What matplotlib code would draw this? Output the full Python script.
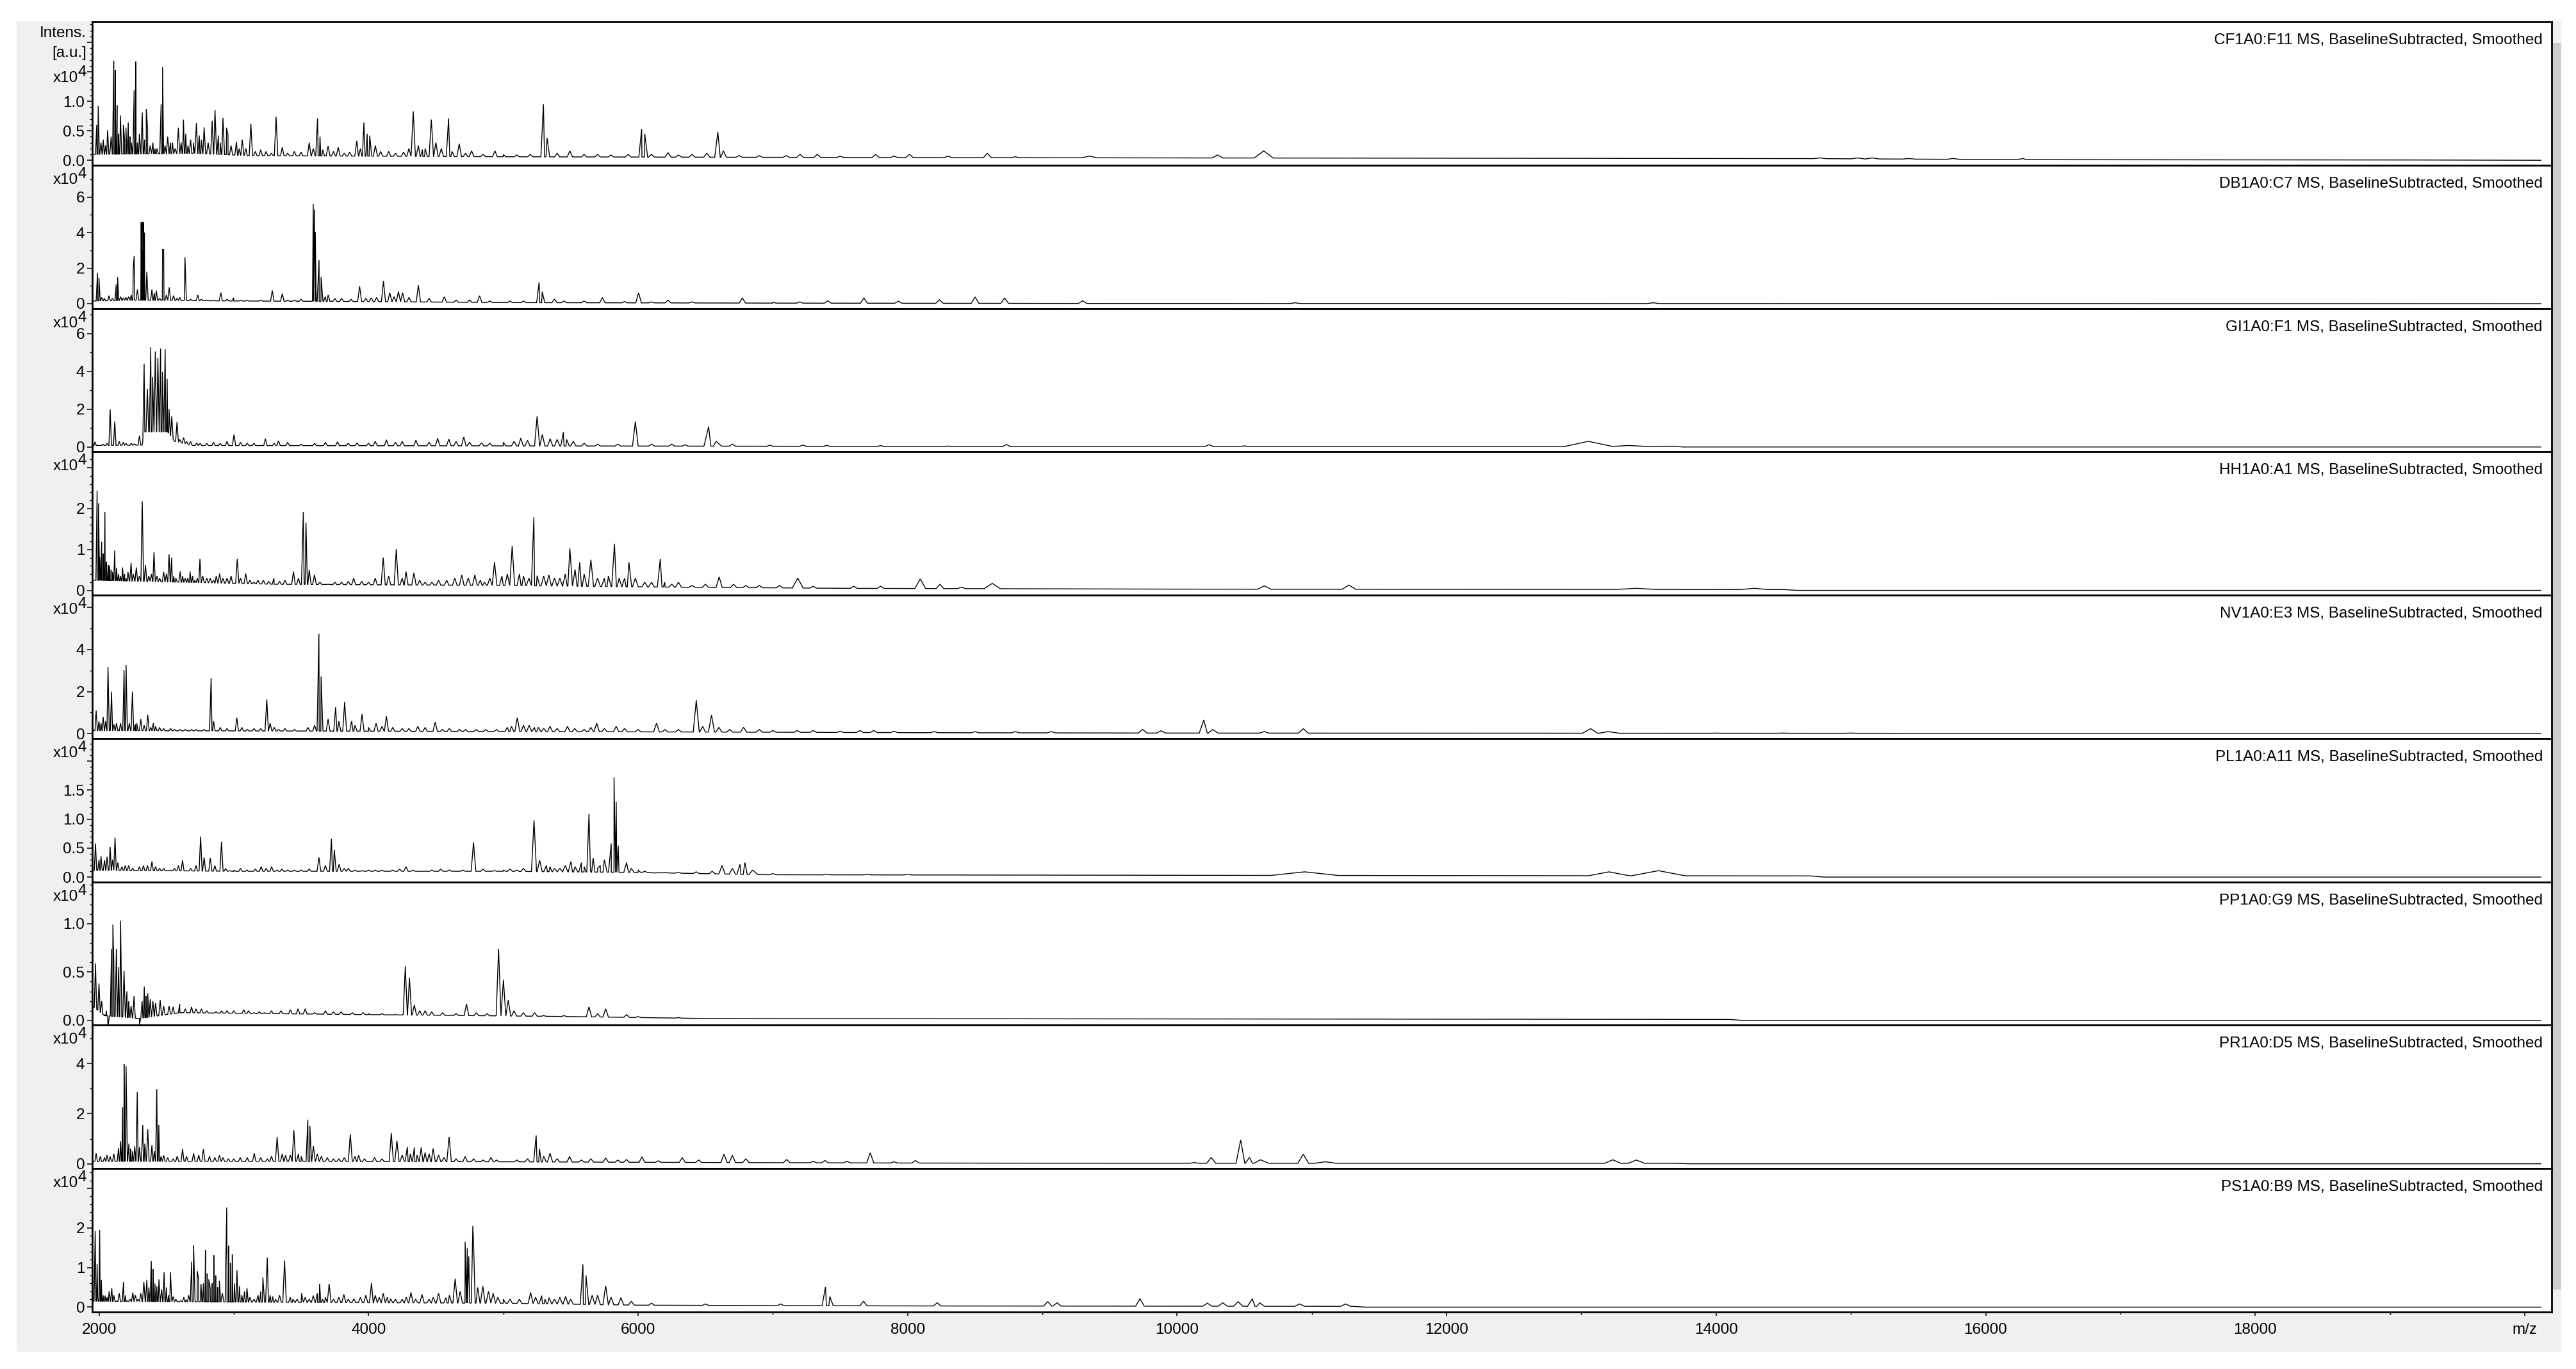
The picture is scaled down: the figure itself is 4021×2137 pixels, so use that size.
"""
Stacked MALDI-TOF spectra (flexAnalysis style overview), nine samples.
"""

import numpy as np
import matplotlib
matplotlib.use("Agg")
import matplotlib.pyplot as plt
from matplotlib.patches import Rectangle
from matplotlib.ticker import MultipleLocator, AutoMinorLocator, FuncFormatter

plt.rcParams['font.family'] = ['Liberation Sans', 'DejaVu Sans']
plt.rcParams['mathtext.default'] = 'regular'

# Sample names, y tick steps and highest labelled tick (x10^4)
SAMPLES = ["CF1A0:F11", "DB1A0:C7", "GI1A0:F1", "HH1A0:A1", "NV1A0:E3",
           "PL1A0:A11", "PP1A0:G9", "PR1A0:D5", "PS1A0:B9"]
TICK_STEP = [0.5, 2, 2, 1, 2, 0.5, 0.5, 2, 1]
LABEL_MAX = [1.0, 6, 6, 2, 4, 1.5, 1.0, 4, 2]

X_TICKS = [2000, 4000, 6000, 8000, 10000, 12000, 14000, 16000, 18000, 20000]
X_TICK_LABELS = ["2000", "4000", "6000", "8000", "10000", "12000", "14000", "16000", "18000", "m/z"]

# Peak lists: (m/z, intensity x10^4[, half width])
CF_PEAKS = [(1983, 0.60), (1994, 0.92), (2032, 0.35), (2064, 0.51), (2110, 1.69), (2121, 1.53),
            (2134, 0.93), (2159, 0.76), (2181, 0.60), (2200, 0.55), (2217, 0.64), (2240, 0.30),
            (2261, 1.19), (2272, 1.67), (2300, 0.45), (2321, 0.81), (2351, 0.87), (2361, 0.53),
            (2400, 0.30), (2430, 0.20), (2461, 0.95), (2472, 1.58), (2510, 0.40), (2545, 0.30),
            (2589, 0.55), (2627, 0.69), (2644, 0.45), (2680, 0.35), (2723, 0.63), (2744, 0.42),
            (2780, 0.56), (2840, 0.67), (2861, 0.85), (2886, 0.42), (2920, 0.72), (2946, 0.55),
            (2957, 0.44), (3020, 0.31), (3063, 0.35), (3127, 0.62), (3200, 0.18), (3314, 0.74),
            (3360, 0.22), (3450, 0.15), (3560, 0.30), (3622, 0.71), (3640, 0.40), (3700, 0.24),
            (3775, 0.22), (3913, 0.33), (3966, 0.64), (3990, 0.45), (4009, 0.42), (4051, 0.25),
            (4150, 0.15), (4332, 0.83), (4370, 0.25), (4420, 0.20), (4466, 0.69), (4500, 0.30),
            (4594, 0.71), (4673, 0.28), (4765, 0.16), (4938, 0.16), (5298, 0.95), (5325, 0.38),
            (5494, 0.16), (5700, 0.10), (5927, 0.10), (6027, 0.53), (6050, 0.45), (6223, 0.13),
            (6510, 0.12), (6592, 0.48), (6633, 0.16), (7202, 0.10), (7330, 0.10), (7763, 0.10),
            (8014, 0.10), (8592, 0.12), (9350, 0.07, 60), (10300, 0.09, 40), (10643, 0.16, 70),
            (14770, 0.04), (15050, 0.04), (15160, 0.04), (15430, 0.03), (15760, 0.03), (16280, 0.03)]
DB_PEAKS = [(1989, 1.74, 10), (2000, 1.45), (2040, 0.30), (2074, 0.45), (2128, 1.09), (2138, 1.50),
            (2181, 0.33), (2220, 0.40), (2255, 2.15), (2261, 2.68), (2285, 0.80), (2313, 4.59),
            (2320, 4.59), (2326, 3.00), (2330, 4.59), (2337, 4.00), (2355, 1.80), (2393, 0.80),
            (2425, 0.74), (2450, 0.30), (2472, 3.06), (2480, 3.04), (2521, 0.92), (2553, 0.45),
            (2638, 2.62), (2644, 1.15), (2733, 0.50), (2800, 0.20), (2904, 0.62), (2999, 0.33),
            (3100, 0.20), (3286, 0.74), (3360, 0.56), (3450, 0.20), (3590, 5.62), (3598, 5.30),
            (3605, 4.04), (3633, 2.45), (3648, 1.50), (3700, 0.50), (3800, 0.30), (3934, 0.98),
            (4020, 0.33), (4111, 1.27), (4158, 0.62), (4222, 0.68), (4253, 0.62), (4370, 1.04),
            (4562, 0.39), (4824, 0.44), (5266, 1.20), (5289, 0.67), (5380, 0.26), (5735, 0.34),
            (6004, 0.61), (6223, 0.20), (6774, 0.32), (7408, 0.16), (7676, 0.32), (7932, 0.14),
            (8237, 0.22), (8501, 0.38), (8720, 0.32), (9299, 0.16), (10876, 0.05), (13533, 0.05)]
GI_PEAKS = [(1971, 0.27), (2083, 1.98), (2117, 1.35), (2150, 0.30), (2200, 0.20), (2263, 0.16),
            (2300, 0.60), (2335, 4.40), (2359, 3.08), (2384, 5.27), (2398, 3.70), (2418, 5.05),
            (2437, 4.70), (2457, 5.20), (2471, 3.95), (2491, 5.16), (2506, 3.60), (2520, 2.00),
            (2540, 1.63), (2579, 1.32), (2628, 0.50), (2680, 0.30), (2725, 0.22), (2800, 0.20),
            (3002, 0.66), (3100, 0.20), (3235, 0.44), (3332, 0.33), (3500, 0.15), (3770, 0.27),
            (3915, 0.22), (4133, 0.38), (4352, 0.36), (4513, 0.46), (4596, 0.42), (4707, 0.53),
            (4838, 0.22), (5130, 0.46), (5251, 1.63), (5290, 0.66), (5348, 0.44), (5446, 0.79),
            (5470, 0.40), (5980, 1.35), (6524, 1.08, 35), (6580, 0.30, 40), (6980, 0.10),
            (7224, 0.10), (8300, 0.05), (8734, 0.13), (10237, 0.12), (10500, 0.06),
            (13052, 0.30, 180), (13350, 0.08, 120)]
HH_PEAKS = [(1986, 2.44), (1996, 2.13), (2020, 1.19), (2044, 1.92), (2068, 0.62), (2090, 0.50),
            (2117, 0.98), (2145, 0.40), (2175, 0.56), (2200, 0.30), (2238, 0.67), (2277, 0.56),
            (2321, 2.18), (2345, 0.62), (2370, 0.35), (2408, 0.93), (2450, 0.30), (2480, 0.45),
            (2520, 0.88), (2539, 0.80), (2570, 0.30), (2603, 0.46), (2640, 0.30), (2676, 0.46),
            (2710, 0.25), (2749, 0.77), (2800, 0.30), (2850, 0.25), (2895, 0.41), (2950, 0.30),
            (3026, 0.77), (3089, 0.41), (3150, 0.20), (3220, 0.25), (3298, 0.30), (3443, 0.46),
            (3516, 1.92), (3536, 1.66), (3560, 0.50), (3599, 0.38), (3700, 0.15), (3800, 0.20),
            (3890, 0.30), (4000, 0.20), (4109, 0.80), (4206, 1.01), (4278, 0.46), (4337, 0.43),
            (4420, 0.20), (4520, 0.25), (4692, 0.38), (4789, 0.38), (4860, 0.20), (4935, 0.69),
            (5066, 1.09), (5120, 0.40), (5227, 1.79), (5251, 0.36), (5338, 0.38), (5420, 0.30),
            (5494, 1.03), (5533, 0.51), (5567, 0.69), (5650, 0.75), (5700, 0.30), (5825, 1.14),
            (5860, 0.30), (5932, 0.69), (6050, 0.20), (6165, 0.77), (6199, 0.20), (6400, 0.12),
            (6602, 0.33), (6709, 0.15), (7185, 0.30, 40), (7600, 0.10), (8094, 0.28, 40),
            (8240, 0.15), (8629, 0.17, 60), (10647, 0.11, 50), (11275, 0.13, 50),
            (13408, 0.05, 150), (14282, 0.05, 100)]
NV_PEAKS = [(1979, 1.10), (2000, 0.60), (2031, 0.80), (2067, 3.17), (2093, 2.00), (2130, 0.50),
            (2186, 3.02), (2201, 3.27), (2248, 2.00), (2280, 0.50), (2310, 0.70), (2362, 0.90),
            (2403, 0.50), (2450, 0.30), (2532, 0.25), (2600, 0.20), (2687, 0.20), (2832, 2.64),
            (2850, 0.60), (2900, 0.30), (3023, 0.76), (3100, 0.20), (3245, 1.63), (3270, 0.50),
            (3333, 0.20), (3450, 0.20), (3632, 4.74), (3648, 2.72), (3700, 0.70), (3756, 1.26),
            (3823, 1.51), (3875, 0.60), (3952, 0.93), (4000, 0.30), (4056, 0.50), (4133, 0.83),
            (4250, 0.25), (4366, 0.35), (4495, 0.55), (4600, 0.25), (4676, 0.20), (4800, 0.20),
            (4950, 0.20), (5104, 0.76), (5150, 0.40), (5192, 0.40), (5260, 0.30), (5347, 0.35),
            (5400, 0.25), (5476, 0.35), (5600, 0.20), (5693, 0.50), (5838, 0.35), (6137, 0.50),
            (6432, 1.59), (6545, 0.89), (6600, 0.30), (6783, 0.30), (7181, 0.15), (7646, 0.15),
            (7749, 0.15), (8198, 0.10), (9066, 0.10), (9745, 0.20), (9881, 0.14), (10198, 0.65),
            (10264, 0.20, 40), (10647, 0.10), (10937, 0.24), (13069, 0.24, 60), (13200, 0.10, 80),
            (14000, 0.03), (14500, 0.03), (15000, 0.03)]
PL_PEAKS = [(1974, 0.58), (2015, 0.36), (2041, 0.29), (2083, 0.52), (2119, 0.68), (2170, 0.18),
            (2220, 0.20), (2274, 0.11), (2330, 0.20), (2393, 0.27), (2450, 0.15), (2506, 0.11),
            (2560, 0.15), (2620, 0.29), (2754, 0.70), (2780, 0.34), (2826, 0.33), (2909, 0.61),
            (2971, 0.11), (3050, 0.15), (3120, 0.10), (3203, 0.18), (3281, 0.18), (3358, 0.14),
            (3450, 0.12), (3632, 0.34), (3725, 0.66), (3746, 0.47), (3782, 0.22), (3850, 0.15),
            (3952, 0.11), (4100, 0.12), (4278, 0.18), (4400, 0.10), (4536, 0.14), (4650, 0.10),
            (4779, 0.60), (4934, 0.11), (5100, 0.12), (5228, 0.98), (5270, 0.29), (5347, 0.18),
            (5420, 0.15), (5502, 0.27), (5533, 0.18), (5636, 1.09), (5667, 0.33), (5720, 0.20),
            (5801, 0.58), (5822, 1.72), (5838, 1.30), (5853, 0.54), (5915, 0.25), (6000, 0.12),
            (6122, 0.07), (6432, 0.09), (6623, 0.20), (6757, 0.22), (6793, 0.25, 30),
            (6850, 0.12, 40), (8000, 0.05), (10947, 0.09, 250), (13205, 0.09, 150),
            (13572, 0.11, 200)]
PP_PEAKS = [(1974, 0.59), (2000, 0.38), (2041, 0.06), (2067, -0.07), (2093, 0.74), (2103, 0.99),
            (2129, 0.74), (2160, 1.03), (2186, 0.51), (2207, 0.30), (2238, 0.15), (2300, -0.04),
            (2336, 0.35), (2362, 0.28), (2400, 0.20), (2454, 0.21), (2520, 0.15), (2599, 0.17),
            (2687, 0.14), (2760, 0.12), (2868, 0.09), (2950, 0.10), (3074, 0.11), (3150, 0.08),
            (3229, 0.08), (3350, 0.10), (3477, 0.12), (3600, 0.08), (3797, 0.09), (4000, 0.07),
            (4273, 0.56), (4304, 0.44), (4340, 0.16), (4469, 0.09), (4727, 0.17), (4965, 0.74),
            (5001, 0.42), (5037, 0.21), (5233, 0.08), (5636, 0.14), (5760, 0.12), (5915, 0.06)]
PR_PEAKS = [(1979, 0.42), (2041, 0.25), (2083, 0.29), (2145, 0.63), (2176, 2.26), (2186, 3.98),
            (2201, 3.90), (2222, 0.80), (2248, 0.50), (2284, 2.87), (2300, 0.67), (2325, 1.55),
            (2362, 1.38), (2393, 0.75), (2429, 2.98), (2444, 1.55), (2480, 0.34), (2550, 0.20),
            (2620, 0.59), (2702, 0.42), (2775, 0.59), (2894, 0.34), (2960, 0.20), (3048, 0.25),
            (3152, 0.42), (3250, 0.20), (3322, 1.07), (3384, 0.34), (3446, 1.34), (3500, 0.30),
            (3550, 1.76), (3565, 1.51), (3591, 0.71), (3694, 0.25), (3780, 0.20), (3865, 1.19),
            (3926, 0.34), (4045, 0.25), (4169, 1.23), (4211, 0.92), (4288, 0.67), (4340, 0.65),
            (4391, 0.65), (4479, 0.61), (4598, 1.07), (4717, 0.29), (4908, 0.25), (5244, 1.13),
            (5269, 0.59), (5347, 0.42), (5492, 0.29), (5760, 0.23), (5915, 0.17), (6029, 0.28),
            (6328, 0.25), (6638, 0.39), (6700, 0.34), (7103, 0.17), (7387, 0.13), (7723, 0.44),
            (8059, 0.13), (10127, 0.05), (10253, 0.25), (10472, 0.95), (10537, 0.25),
            (10619, 0.16, 60), (10936, 0.38, 40), (11100, 0.08, 80), (13233, 0.16, 60),
            (13408, 0.15, 60)]
PS_PEAKS = [(1972, 1.92), (1986, 1.09), (1991, 0.21), (2005, 1.95), (2018, 0.69), (2045, 0.29),
            (2095, 0.48), (2130, 0.15), (2182, 0.64), (2210, 0.16), (2251, 0.37), (2290, 0.20),
            (2333, 0.64), (2355, 0.69), (2388, 1.17), (2401, 0.96), (2429, 0.53), (2483, 0.88),
            (2530, 0.88), (2551, 0.27), (2606, 0.16), (2647, 0.19), (2688, 1.15), (2702, 1.57),
            (2729, 0.91), (2757, 0.59), (2790, 1.44), (2803, 0.85), (2825, 0.48), (2852, 1.31),
            (2866, 0.80), (2893, 0.67), (2948, 2.52), (2962, 1.55), (2975, 1.12), (2989, 1.33),
            (3024, 0.93), (3043, 0.53), (3098, 0.48), (3150, 0.20), (3216, 0.75), (3249, 1.25),
            (3289, 0.27), (3377, 1.18), (3440, 0.20), (3503, 0.35), (3590, 0.29), (3637, 0.59),
            (3708, 0.59), (3817, 0.32), (3891, 0.21), (4022, 0.61), (4109, 0.35), (4164, 0.21),
            (4315, 0.37), (4397, 0.32), (4520, 0.35), (4575, 0.24), (4643, 0.72), (4717, 1.65),
            (4733, 1.49), (4744, 1.28), (4774, 2.05), (4780, 1.57), (4848, 0.53), (4925, 0.35),
            (5000, 0.20), (5203, 0.37), (5285, 0.29), (5340, 0.24), (5463, 0.27), (5591, 1.08),
            (5614, 0.80), (5700, 0.30), (5760, 0.54), (5873, 0.24), (7058, 0.08), (7391, 0.51),
            (7423, 0.27), (7673, 0.15), (8220, 0.11), (9040, 0.14), (9109, 0.11), (9724, 0.21),
            (10225, 0.10), (10339, 0.11), (10453, 0.14), (10558, 0.21), (10613, 0.11),
            (10909, 0.08), (11250, 0.08)]

# Low "grass" peaks between the main ones (m/z, intensity x10^4)
CF_MINOR = [(2015, 0.30), (2048, 0.25), (2090, 0.40), (2145, 0.45), (2190, 0.35), (2230, 0.40),
            (2285, 0.30), (2338, 0.35), (2380, 0.25), (2415, 0.20), (2490, 0.25), (2530, 0.30),
            (2565, 0.20), (2610, 0.30), (2660, 0.25), (2700, 0.30), (2760, 0.35), (2810, 0.30),
            (2900, 0.30), (2980, 0.25), (3040, 0.20), (3090, 0.20), (3160, 0.15), (3240, 0.15),
            (3280, 0.12), (3400, 0.12), (3500, 0.14), (3590, 0.20), (3660, 0.18), (3740, 0.15),
            (3820, 0.12), (3860, 0.14), (3940, 0.20), (4090, 0.15), (4200, 0.12), (4260, 0.14),
            (4300, 0.20), (4400, 0.18), (4540, 0.20), (4620, 0.15), (4720, 0.12), (4850, 0.10),
            (5000, 0.10), (5100, 0.09), (5200, 0.10), (5400, 0.12), (5600, 0.10), (5800, 0.09),
            (6100, 0.10), (6300, 0.09), (6400, 0.10), (6750, 0.08), (6900, 0.08), (7100, 0.08),
            (7500, 0.07), (7900, 0.07), (8300, 0.07), (8800, 0.06)]
DB_MINOR = [(2020, 0.35), (2100, 0.30), (2160, 0.40), (2200, 0.35), (2240, 0.50), (2410, 0.60),
            (2500, 0.50), (2580, 0.30), (2600, 0.35), (2680, 0.25), (2760, 0.25), (2850, 0.20),
            (2950, 0.25), (3050, 0.20), (3150, 0.15), (3200, 0.20), (3400, 0.20), (3500, 0.25),
            (3680, 0.40), (3750, 0.30), (3870, 0.25), (3980, 0.30), (4060, 0.35), (4190, 0.40),
            (4300, 0.35), (4450, 0.30), (4650, 0.20), (4750, 0.20), (4900, 0.15), (5050, 0.15),
            (5150, 0.15), (5450, 0.15), (5600, 0.15), (5900, 0.12), (6100, 0.10), (6400, 0.10),
            (7000, 0.08), (7200, 0.10)]
GI_MINOR = [(2030, 0.15), (2060, 0.20), (2180, 0.25), (2240, 0.20), (2600, 0.40), (2650, 0.30),
            (2750, 0.20), (2850, 0.25), (2900, 0.20), (2950, 0.30), (3050, 0.25), (3150, 0.20),
            (3300, 0.20), (3400, 0.25), (3600, 0.20), (3680, 0.25), (3850, 0.20), (4000, 0.20),
            (4050, 0.30), (4200, 0.25), (4250, 0.30), (4450, 0.25), (4650, 0.30), (4750, 0.25),
            (4900, 0.20), (5000, 0.25), (5080, 0.30), (5180, 0.35), (5400, 0.40), (5520, 0.30),
            (5600, 0.20), (5700, 0.15), (5850, 0.15), (6100, 0.15), (6250, 0.15), (6350, 0.12),
            (6700, 0.15), (7400, 0.08), (7800, 0.07)]
HH_MINOR = [(2005, 0.80), (2030, 0.90), (2055, 0.70), (2080, 0.60), (2100, 0.45), (2130, 0.55),
            (2160, 0.35), (2190, 0.40), (2215, 0.45), (2255, 0.40), (2300, 0.35), (2390, 0.40),
            (2430, 0.35), (2500, 0.40), (2555, 0.35), (2620, 0.35), (2660, 0.30), (2695, 0.35),
            (2730, 0.30), (2770, 0.35), (2825, 0.30), (2870, 0.35), (2920, 0.30), (2980, 0.35),
            (3050, 0.30), (3120, 0.25), (3180, 0.25), (3260, 0.22), (3340, 0.22), (3380, 0.25),
            (3480, 0.30), (3640, 0.20), (3750, 0.20), (3850, 0.22), (3950, 0.22), (4050, 0.30),
            (4150, 0.35), (4250, 0.30), (4380, 0.25), (4470, 0.20), (4580, 0.25), (4640, 0.30),
            (4740, 0.30), (4830, 0.25), (4900, 0.30), (4990, 0.35), (5030, 0.40), (5150, 0.35),
            (5190, 0.30), (5300, 0.35), (5380, 0.30), (5460, 0.40), (5600, 0.40), (5750, 0.30),
            (5780, 0.35), (5900, 0.30), (5980, 0.30), (6100, 0.20), (6250, 0.15), (6300, 0.20),
            (6500, 0.15), (6800, 0.12), (6900, 0.12), (7050, 0.12), (7300, 0.10), (7800, 0.10),
            (8400, 0.08)]
NV_MINOR = [(2015, 0.50), (2050, 0.60), (2110, 0.45), (2160, 0.50), (2225, 0.50), (2270, 0.45),
            (2335, 0.40), (2385, 0.30), (2420, 0.35), (2480, 0.25), (2560, 0.20), (2640, 0.20),
            (2720, 0.20), (2780, 0.20), (2950, 0.25), (3060, 0.30), (3150, 0.25), (3200, 0.25),
            (3300, 0.30), (3380, 0.25), (3550, 0.30), (3600, 0.40), (3780, 0.60), (3900, 0.40),
            (4100, 0.35), (4180, 0.30), (4300, 0.25), (4420, 0.30), (4550, 0.20), (4720, 0.20),
            (4870, 0.20), (5030, 0.30), (5060, 0.35), (5230, 0.30), (5300, 0.25), (5530, 0.25),
            (5650, 0.30), (5750, 0.25), (5900, 0.25), (6000, 0.20), (6200, 0.20), (6300, 0.20),
            (6480, 0.35), (6680, 0.20), (6900, 0.20), (7000, 0.15), (7300, 0.15), (7500, 0.12),
            (7900, 0.12), (8500, 0.10), (8800, 0.10)]
PL_MINOR = [(2000, 0.30), (2060, 0.35), (2100, 0.30), (2140, 0.25), (2195, 0.20), (2250, 0.15),
            (2300, 0.18), (2360, 0.20), (2420, 0.18), (2480, 0.15), (2530, 0.12), (2590, 0.20),
            (2680, 0.15), (2720, 0.20), (2860, 0.20), (2940, 0.15), (3000, 0.12), (3100, 0.12),
            (3160, 0.14), (3240, 0.15), (3320, 0.12), (3400, 0.12), (3500, 0.12), (3560, 0.14),
            (3680, 0.20), (3820, 0.15), (3900, 0.12), (4000, 0.12), (4050, 0.12), (4180, 0.12),
            (4230, 0.14), (4330, 0.12), (4470, 0.12), (4600, 0.12), (4700, 0.12), (4850, 0.14),
            (5000, 0.12), (5050, 0.14), (5150, 0.15), (5320, 0.20), (5380, 0.15), (5460, 0.20),
            (5580, 0.25), (5600, 0.18), (5700, 0.15), (5750, 0.30), (5950, 0.15), (6050, 0.10),
            (6200, 0.08), (6300, 0.08), (6550, 0.10), (6700, 0.15), (7000, 0.06), (7400, 0.05),
            (7700, 0.05)]
PP_MINOR = [(2020, 0.20), (2055, 0.10), (2110, 0.60), (2145, 0.55), (2220, 0.20), (2260, 0.25),
            (2320, 0.20), (2350, 0.25), (2380, 0.22), (2420, 0.18), (2480, 0.15), (2550, 0.14),
            (2640, 0.12), (2720, 0.12), (2800, 0.10), (2910, 0.10), (3000, 0.10), (3110, 0.10),
            (3190, 0.09), (3280, 0.10), (3420, 0.11), (3530, 0.12), (3680, 0.10), (3740, 0.09),
            (3880, 0.08), (3960, 0.08), (4100, 0.07), (4200, 0.06), (4380, 0.10), (4420, 0.10),
            (4550, 0.08), (4650, 0.07), (4800, 0.08), (4880, 0.07), (5080, 0.10), (5150, 0.08),
            (5300, 0.05), (5450, 0.05), (5700, 0.07), (6000, 0.04), (6300, 0.03)]
PR_MINOR = [(2010, 0.30), (2060, 0.35), (2110, 0.40), (2160, 0.90), (2235, 0.60), (2265, 0.70),
            (2340, 0.80), (2410, 0.50), (2460, 0.30), (2510, 0.25), (2580, 0.30), (2650, 0.30),
            (2740, 0.35), (2820, 0.30), (2860, 0.25), (2920, 0.25), (3000, 0.20), (3100, 0.25),
            (3200, 0.25), (3280, 0.30), (3360, 0.40), (3420, 0.35), (3480, 0.40), (3620, 0.40),
            (3650, 0.30), (3740, 0.20), (3820, 0.25), (3900, 0.30), (3970, 0.20), (4100, 0.20),
            (4250, 0.35), (4310, 0.40), (4360, 0.35), (4420, 0.45), (4450, 0.40), (4520, 0.35),
            (4560, 0.25), (4650, 0.20), (4780, 0.20), (4850, 0.15), (4950, 0.15), (5100, 0.15),
            (5180, 0.20), (5300, 0.30), (5400, 0.20), (5580, 0.15), (5650, 0.20), (5850, 0.15),
            (6150, 0.12), (6450, 0.15), (6800, 0.20), (7300, 0.10), (7550, 0.10), (7900, 0.08)]
PS_MINOR = [(2030, 0.30), (2060, 0.25), (2075, 0.40), (2110, 0.30), (2150, 0.35), (2195, 0.30),
            (2230, 0.20), (2270, 0.30), (2310, 0.35), (2370, 0.50), (2415, 0.60), (2445, 0.70),
            (2465, 0.45), (2500, 0.50), (2515, 0.30), (2570, 0.20), (2630, 0.25), (2665, 0.30),
            (2740, 0.70), (2775, 0.60), (2815, 0.70), (2840, 0.60), (2880, 0.50), (2915, 0.35),
            (3005, 0.60), (3060, 0.30), (3080, 0.40), (3120, 0.25), (3180, 0.30), (3200, 0.40),
            (3270, 0.30), (3310, 0.20), (3340, 0.30), (3420, 0.25), (3470, 0.20), (3530, 0.25),
            (3560, 0.20), (3620, 0.35), (3660, 0.20), (3680, 0.25), (3740, 0.20), (3780, 0.25),
            (3850, 0.20), (3940, 0.25), (3980, 0.30), (4050, 0.30), (4080, 0.25), (4140, 0.25),
            (4200, 0.20), (4250, 0.20), (4280, 0.25), (4350, 0.20), (4450, 0.20), (4480, 0.25),
            (4600, 0.30), (4680, 0.40), (4810, 0.50), (4890, 0.40), (4960, 0.25), (5050, 0.20),
            (5120, 0.20), (5240, 0.25), (5310, 0.20), (5380, 0.20), (5420, 0.25), (5500, 0.20),
            (5660, 0.30), (5800, 0.25), (5950, 0.15), (6100, 0.10), (6500, 0.08)]

# Baseline level knots (m/z, intensity x10^4)
CF_BASE = [(1950, 0.10), (2700, 0.12), (3100, 0.08), (4000, 0.07), (5000, 0.06), (7000, 0.05),
           (10000, 0.04), (14600, 0.03), (16300, 0.01), (19200, 0.005), (20120, 0.0)]
DB_BASE = [(1950, 0.15), (2300, 0.20), (3000, 0.15), (4000, 0.12), (5000, 0.06), (7000, 0.03),
           (9500, 0.01), (20120, 0.0)]
GI_BASE = [(1950, 0.08), (2320, 0.10), (2340, 0.80), (2510, 0.80), (2560, 0.30), (2700, 0.08),
           (5000, 0.06), (7000, 0.04), (9000, 0.02), (12800, 0.02), (13700, 0.04), (13750, 0.0),
           (20120, 0.0)]
HH_BASE = [(1950, 0.25), (3300, 0.15), (5000, 0.12), (6200, 0.08), (7500, 0.05), (10000, 0.03),
           (14500, 0.02), (14600, 0.0), (20120, 0.0)]
NV_BASE = [(1950, 0.15), (4000, 0.12), (6500, 0.08), (8000, 0.05), (10000, 0.03), (15300, 0.02),
           (15400, 0.0), (20120, 0.0)]
PL_BASE = [(1950, 0.12), (3000, 0.10), (5000, 0.10), (6000, 0.08), (6950, 0.04), (10000, 0.03),
           (14700, 0.02), (14800, 0.0), (20120, 0.0)]
PP_BASE = [(1950, 0.15), (2040, 0.05), (2300, 0.02), (2600, 0.08), (4000, 0.06), (5500, 0.04),
           (6500, 0.02), (14100, 0.01), (14200, 0.0), (20120, 0.0)]
PR_BASE = [(1950, 0.10), (3500, 0.10), (5000, 0.08), (6000, 0.06), (8000, 0.03), (9500, 0.02),
           (13700, 0.02), (13800, 0.0), (20120, 0.0)]
PS_BASE = [(1950, 0.15), (3500, 0.12), (5000, 0.10), (6000, 0.05), (8000, 0.03), (11300, 0.02),
           (11400, 0.0), (20120, 0.0)]

PEAKS = [CF_PEAKS, DB_PEAKS, GI_PEAKS, HH_PEAKS, NV_PEAKS, PL_PEAKS, PP_PEAKS, PR_PEAKS, PS_PEAKS]
MINORS = [CF_MINOR, DB_MINOR, GI_MINOR, HH_MINOR, NV_MINOR, PL_MINOR, PP_MINOR, PR_MINOR, PS_MINOR]
BASES = [CF_BASE, DB_BASE, GI_BASE, HH_BASE, NV_BASE, PL_BASE, PP_BASE, PR_BASE, PS_BASE]

# Layout in pixels of the 4021 x 2137 output
W, H = 4021, 2137
LEFT, RIGHT, TOP, BOTTOM = 144, 3983, 34, 2048
FS = 17.5


def build_trace(peaks, base):
    """Polyline through baseline knots and triangular peak outlines."""
    bx = np.array([b[0] for b in base], dtype=float)
    by = np.array([b[1] for b in base], dtype=float)
    pts = list(zip(bx, by))
    for p in peaks:
        mz, h = p[0], p[1]
        w = p[2] if len(p) > 2 else 3 + 0.003 * mz
        for x in (mz - w, mz + w):
            pts.append((x, float(np.interp(x, bx, by))))
        pts.append((mz, h))
    pts.sort(key=lambda t: t[0])
    xs, ys = zip(*pts)
    return np.array(xs), np.array(ys)


def make_formatter(step, label_max):
    def fmt(v, pos):
        if v < -1e-9 or v > label_max + 1e-9:
            return ""
        return f"{v:.1f}" if step < 1 else f"{v:.0f}"
    return FuncFormatter(fmt)


fig = plt.figure(figsize=(W / 100, H / 100), dpi=100)

# grey window background and scrollbar strip (behind the axes)
fig.patches.append(Rectangle((26 / W, 1 - 2110 / H), (3998 - 26) / W, (2110 - 33) / H,
                             transform=fig.transFigure, facecolor='#f0f0f0',
                             edgecolor='none', zorder=-2))
fig.patches.append(Rectangle((3985 / W, 1 - 2013 / H), 13 / W, (2013 - 67) / H,
                             transform=fig.transFigure, facecolor='#cdcdcd',
                             edgecolor='none', zorder=-1))

panel_h = (BOTTOM - TOP) / len(SAMPLES)
for i, name in enumerate(SAMPLES):
    top = TOP + i * panel_h
    ax = fig.add_axes([LEFT / W, 1 - (top + panel_h) / H, (RIGHT - LEFT) / W, panel_h / H])
    ax.set_facecolor('white')

    x, y = build_trace(PEAKS[i] + MINORS[i], BASES[i])
    ax.plot(x, y, color='black', lw=1.0, solid_joinstyle='miter')

    ymax = max(p[1] for p in PEAKS[i]) / 0.72
    ax.set_xlim(1950, 20200)
    ax.set_ylim(-0.035 * ymax, ymax)

    for sp in ax.spines.values():
        sp.set_linewidth(2.0)
        sp.set_color('black')

    step = TICK_STEP[i]
    ax.yaxis.set_major_locator(MultipleLocator(step))
    ax.yaxis.set_minor_locator(AutoMinorLocator(2 if step == 2 else 5))
    ax.yaxis.set_major_formatter(make_formatter(step, LABEL_MAX[i]))
    ax.tick_params(axis='y', which='major', direction='out', length=5.5, width=1.1,
                   pad=3, labelsize=FS, colors='black')
    ax.tick_params(axis='y', which='minor', direction='out', length=3, width=1.0)

    if i == len(SAMPLES) - 1:
        ax.set_xticks(X_TICKS)
        ax.set_xticklabels(X_TICK_LABELS)
        ax.xaxis.set_minor_locator(MultipleLocator(1000))
        ax.tick_params(axis='x', which='major', direction='out', length=4.5, width=1.1,
                       pad=8, labelsize=FS)
        ax.tick_params(axis='x', which='minor', direction='out', length=3, width=1.0)
    else:
        ax.tick_params(axis='x', which='both', bottom=False, labelbottom=False)

    # sample label, upper right
    ax.annotate(f"{name} MS, BaselineSubtracted, Smoothed", xy=(1, 1), xycoords='axes fraction',
                xytext=(-14, -35), textcoords='offset pixels', ha='right', va='baseline',
                fontsize=FS)

    # exponent label at the top of the intensity axis
    if i == 0:
        ax.annotate("Intens.", xy=(0, 1), xycoords='axes fraction', xytext=(-9, -24),
                    textcoords='offset pixels', ha='right', va='baseline', fontsize=FS,
                    annotation_clip=False)
        ax.annotate("[a.u.]", xy=(0, 1), xycoords='axes fraction', xytext=(-9, -55),
                    textcoords='offset pixels', ha='right', va='baseline', fontsize=FS,
                    annotation_clip=False)
        dy = 94
    else:
        dy = 29
    ax.annotate("x10", xy=(0, 1), xycoords='axes fraction', xytext=(-22, -dy),
                textcoords='offset pixels', ha='right', va='baseline', fontsize=FS,
                annotation_clip=False)
    ax.annotate("4", xy=(0, 1), xycoords='axes fraction', xytext=(-22, -dy + 9),
                textcoords='offset pixels', ha='left', va='baseline', fontsize=FS,
                annotation_clip=False)

fig.savefig("out.png", dpi=100)
